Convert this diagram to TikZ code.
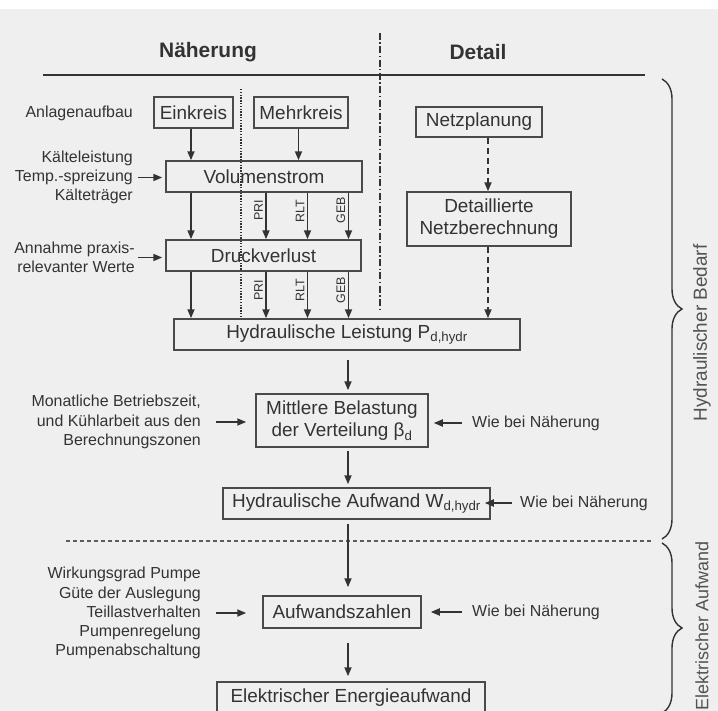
\documentclass[tikz,border=0pt]{standalone}
\usepackage{fontspec}
\setmainfont{Liberation Sans}
\usetikzlibrary{arrows.meta,decorations.pathreplacing}
\definecolor{bg}{HTML}{EFEFEF}
\definecolor{ink}{HTML}{333333}
\definecolor{frame}{HTML}{4A4A4A}
\begin{document}
\begin{tikzpicture}[x=1bp,y=-1bp,
  box/.style={draw=frame, line width=1.5bp, text=ink, inner sep=0pt,
    font=\fontsize{19}{22}\selectfont, align=center},
  side/.style={text=ink, inner sep=0pt, font=\fontsize{16}{19.2}\selectfont},
  ttl/.style={text=ink, inner sep=0pt, font=\fontsize{21}{25}\selectfont\bfseries},
  blbl/.style={text=ink!85!white, inner sep=0pt, rotate=90, font=\fontsize{19}{22}\selectfont},
  lbl/.style={rotate=90, anchor=south, inner sep=0pt, outer sep=3.2bp, text=ink,
    font=\fontsize{12.5}{14}\selectfont},
  arr/.style={draw=ink, line width=1.8bp, -{Triangle[length=9bp,width=7bp]}},
  darr/.style={arr, dash pattern=on 6bp off 4bp},
  bracestyle/.style={draw=ink, line width=1.4bp, decorate,
    decoration={brace, amplitude=20bp}}
]
\useasboundingbox (0,0) rectangle (718,711);
\clip (0,0) rectangle (718,711);
\fill[bg] (0,9) rectangle (718,711);
\fill[white] (0,0) rectangle (718,9);

% column titles and rules
\node[ttl] (tN) at (208,52) {Näherung};
\node[ttl] (tD) at (478,52) {Detail};
\coordinate (hlA) at (43,75);
\coordinate (hlB) at (645,75);
\draw[ink, line width=2bp] (hlA) -- (hlB);
\coordinate (ddA) at (380,33);
\coordinate (ddB) at (380,312);
\draw[ink, line width=1.6bp, dash pattern=on 7bp off 2.5bp on 1.3bp off 2.5bp] (ddA) -- (ddB);
\coordinate (dtA) at (241,89);
\coordinate (dtB) at (241,318);
\draw[ink, line width=1.7bp, dash pattern=on 1.4bp off 1.4bp] (dtA) -- (dtB);
\coordinate (hdA) at (66,541);
\coordinate (hdB) at (652,541);
\draw[ink!80!white, line width=1.2bp, dash pattern=on 4bp off 3bp] (hdA) -- (hdB);

% boxes
\node[box, minimum width=79bp, minimum height=31bp] (ein) at (193.5,112.5) {Einkreis};
\node[box, minimum width=94bp, minimum height=31bp] (meh) at (301,112.5) {Mehrkreis};
\node[box, minimum width=196bp, minimum height=31bp] (vol) at (264,176.5) {Volumenstrom};
\node[box, minimum width=195bp, minimum height=31bp] (dru) at (263.5,255.5) {Druckverlust};
\node[box, minimum width=126bp, minimum height=30bp] (net) at (479,122) {Netzplanung};
\node[box, minimum width=164bp, minimum height=54bp] (det) at (489,219) {Detaillierte\\Netzberechnung};
\node[box, minimum width=346bp, minimum height=31bp] (hl) at (347,334.5) {Hydraulische Leistung P\textsubscript{d,hydr}};
\node[box, minimum width=172bp, minimum height=53bp] (mit) at (342,420.5) {Mittlere Belastung\\der Verteilung β\textsubscript{d}};
\node[box, minimum width=267bp, minimum height=31bp] (ha) at (356.5,503.5) {Hydraulische Aufwand W\textsubscript{d,hydr}};
\node[box, minimum width=158bp, minimum height=32bp] (auf) at (342,612) {Aufwandszahlen};
\node[box, minimum width=268bp, minimum height=32bp] (ele) at (351,698) {Elektrischer Energieaufwand};

% side texts
\node[side, anchor=east] (anl) at (133,113) {Anlagenaufbau};
\node[side, anchor=east, align=right] (kl) at (133,177.5) {Kälteleistung\\Temp.-spreizung\\Kälteträger};
\node[side, anchor=east, align=right] (ann) at (135,257.5) {Annahme praxis-\\relevanter Werte};
\node[side, anchor=east, align=right] (mon) at (201,422) {Monatliche Betriebszeit,\\und Kühlarbeit aus den\\Berechnungszonen};
\node[side, anchor=east, align=right] (wir) at (201,613) {Wirkungsgrad Pumpe\\Güte der Auslegung\\Teillastverhalten\\Pumpenregelung\\Pumpenabschaltung};
\node[side, anchor=west] (wie1) at (472,423) {Wie bei Näherung};
\node[side, anchor=west] (wie2) at (520,503) {Wie bei Näherung};
\node[side, anchor=west] (wie3) at (472,612) {Wie bei Näherung};

% column coordinates
\coordinate (c1) at (191,0);
\coordinate (c2) at (266,0);
\coordinate (c3) at (307.5,0);
\coordinate (c4) at (348.5,0);
\coordinate (cm) at (298.5,0);
\coordinate (cd) at (488,0);
\coordinate (cc) at (348,0);

% upper arrows
\draw[arr] (ein.south -| c1) -- (vol.north -| c1);
\draw[arr] (meh.south -| cm) -- (vol.north -| cm);
\draw[arr] (vol.south -| c1) -- (dru.north -| c1);
\draw[arr] (vol.south -| c2) -- node[lbl, pos=.375] (p1) {PRI} (dru.north -| c2);
\draw[arr] (vol.south -| c3) -- node[lbl, pos=.4] (r1) {RLT} (dru.north -| c3);
\draw[arr] (vol.south -| c4) -- node[lbl, pos=.375] (g1) {GEB} (dru.north -| c4);
\draw[arr] (dru.south -| c1) -- (hl.north -| c1);
\draw[arr] (dru.south -| c2) -- node[lbl, pos=.4] (p2) {PRI} (hl.north -| c2);
\draw[arr] (dru.south -| c3) -- node[lbl, pos=.4] (r2) {RLT} (hl.north -| c3);
\draw[arr] (dru.south -| c4) -- node[lbl, pos=.4] (g2) {GEB} (hl.north -| c4);
\draw[darr] (net.south -| cd) -- (det.north -| cd);
\draw[darr] (det.south -| cd) -- (hl.north -| cd);

% side arrows
\draw[arr, shorten <=5bp, shorten >=3bp] (kl.east) -- (kl.east -| vol.west);
\draw[arr, shorten <=3bp, shorten >=3bp] (ann.east) -- (ann.east -| dru.west);
\draw[arr, shorten <=15bp, shorten >=9bp] (mon.east) -- (mon.east -| mit.west);
\draw[arr, shorten <=15bp, shorten >=16bp] (wir.east) -- (wir.east -| auf.west);
\draw[arr, shorten <=10bp, shorten >=5bp] (wie1.west) -- (wie1.west -| mit.east);
\draw[arr, shorten <=8bp, shorten >=-6bp] (wie2.west) -- (wie2.west -| ha.east);
\draw[arr, shorten <=10bp, shorten >=9bp] (wie3.west) -- (wie3.west -| auf.east);

% main chain
\draw[arr, shorten <=9bp, shorten >=3bp] (hl.south -| cc) -- (mit.north -| cc);
\draw[arr, shorten <=3bp, shorten >=3bp] (mit.south -| cc) -- (ha.north -| cc);
\draw[arr, shorten <=4bp, shorten >=8bp] (ha.south -| cc) -- (auf.north -| cc);
\draw[arr, shorten <=14bp, shorten >=5bp] (auf.south -| cc) -- (ele.north -| cc);

% braces
\coordinate (b1A) at (662,79);
\coordinate (b1B) at (662,539);
\coordinate (b2A) at (662,543);
\coordinate (b2B) at (662,713);
\draw[bracestyle] (b1A) -- (b1B);
\draw[bracestyle] (b2A) -- (b2B);
\node[blbl] (hb) at (702,333) {Hydraulischer Bedarf};
\node[blbl, font=\fontsize{18}{21}\selectfont] (ea) at (702,626) {Elektrischer Aufwand};
\end{tikzpicture}
\end{document}
